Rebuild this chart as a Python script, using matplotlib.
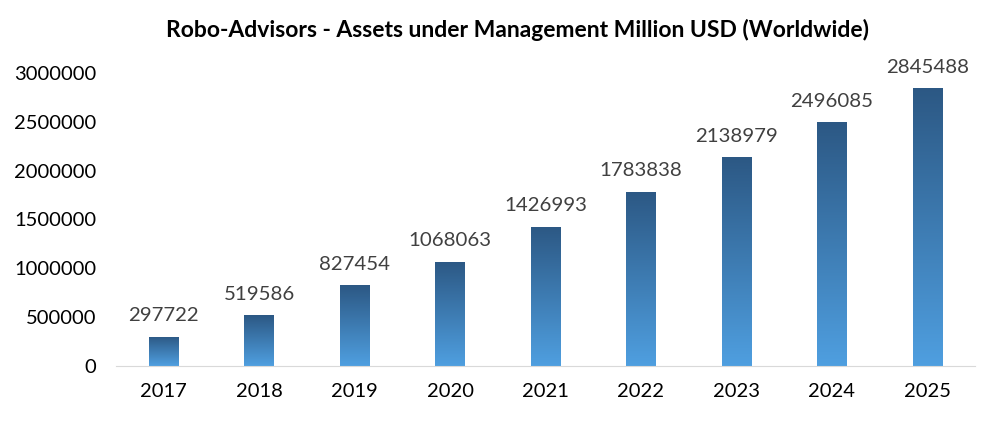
import matplotlib.pyplot as plt
import numpy as np
from matplotlib.colors import LinearSegmentedColormap
from matplotlib.ticker import StrMethodFormatter

years = ["2017", "2018", "2019", "2020", "2021", "2022", "2023", "2024", "2025"]
aum = [297722, 519586, 827454, 1068063, 1426993, 1783838, 2138979, 2496085, 2845488]

plt.rcParams['font.family'] = ['Lato', 'DejaVu Sans']

fig = plt.figure(figsize=(9.98, 4.23), dpi=100)
ax = fig.add_axes([0.1162, 0.1348, 0.8608, 0.6926])

x = np.arange(len(years))
bars = ax.bar(x, aum, width=0.31, color='none', edgecolor='none')

# vertical gradient in each bar, dark on top
cmap = LinearSegmentedColormap.from_list("blu", ["#4f9fe0", "#2c5884"])
grad = np.linspace(0, 1, 256).reshape(-1, 1)
for b in bars:
    x0, w, h = b.get_x(), b.get_width(), b.get_height()
    im = ax.imshow(grad, cmap=cmap, origin='lower', aspect='auto',
                   extent=[x0, x0 + w, 0, h], zorder=2)
    im.set_clip_path(b)
    ax.annotate(f"{h:.0f}", (x0 + w / 2, h), xytext=(0, 9),
                textcoords='offset points', ha='center', va='bottom',
                fontsize=14.7, color='#404040')

ax.set_xlim(-0.5, len(years) - 0.5)
ax.set_ylim(0, 3000000)
ax.set_xticks(x)
ax.set_xticklabels(years)
ax.set_yticks(np.arange(0, 3000001, 500000))
ax.yaxis.set_major_formatter(StrMethodFormatter("{x:.0f}"))
ax.tick_params(length=0, labelsize=14.5, colors='#000000', pad=12)
ax.tick_params(axis='y', pad=14)
for s in ['top', 'right', 'left']:
    ax.spines[s].set_visible(False)
ax.spines['bottom'].set_color('#d9d9d9')
fig.text(0.519, 0.928, "Robo-Advisors - Assets under Management Million USD (Worldwide)",
         ha='center', va='center', fontsize=16.5, fontweight='bold')

fig.savefig("out.png", dpi=100)
